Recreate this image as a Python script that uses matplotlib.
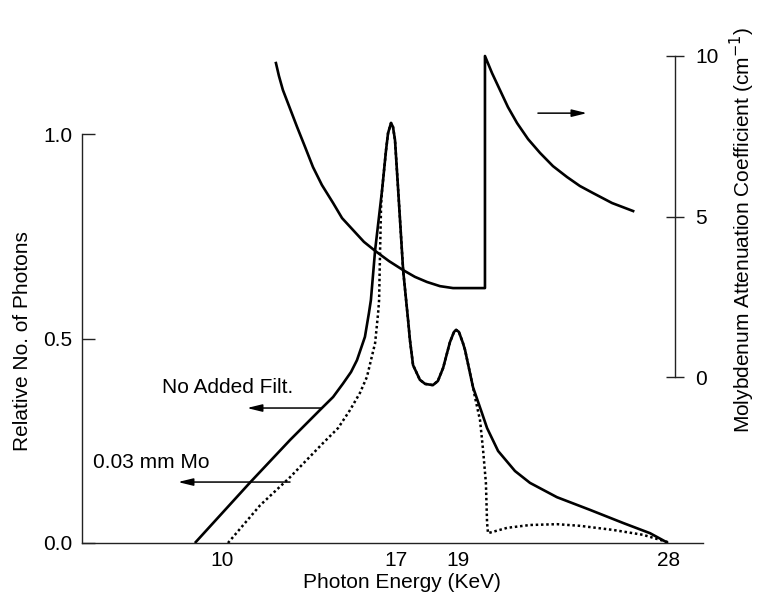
import numpy as np
import matplotlib
matplotlib.use("Agg")
import matplotlib.pyplot as plt

plt.rcParams['font.family'] = ['Liberation Sans', 'DejaVu Sans']

# ---------------- data ----------------
energy_unfiltered = [8.91, 11.13, 12.74, 14.02, 14.47, 14.87, 15.19, 15.43, 15.75,
                     15.91, 15.99, 16.16, 16.44, 16.60, 16.68, 16.80, 16.88, 16.96,
                     17.07, 17.23, 17.39, 17.45, 17.55, 17.77, 17.94, 18.19, 18.35,
                     18.52, 18.74, 18.87, 18.94, 19.04, 19.21, 19.30, 19.64, 20.02,
                     20.24, 20.71, 21.43, 22.07, 23.22, 24.63, 26.04, 27.19, 27.96]
photons_unfiltered = [0.0, 0.148, 0.252, 0.330, 0.357, 0.390, 0.418, 0.447, 0.504,
                      0.562, 0.594, 0.716, 0.863, 0.961, 1.002, 1.027, 1.017, 0.985,
                      0.863, 0.667, 0.545, 0.496, 0.435, 0.399, 0.389, 0.386, 0.396,
                      0.428, 0.491, 0.516, 0.521, 0.516, 0.489, 0.472, 0.381, 0.318,
                      0.281, 0.225, 0.176, 0.147, 0.112, 0.081, 0.049, 0.024, 0.0]

energy_mo = [10.24, 11.53, 12.74, 14.06, 14.67, 15.15, 15.55, 15.83, 16.16, 16.28,
             16.32, 16.36, 16.40, 16.44, 16.60, 16.68, 16.80, 16.88, 16.96, 17.07,
             17.23, 17.39, 17.45, 17.55, 17.77, 17.94, 18.19, 18.35, 18.52, 18.74,
             18.87, 18.94, 19.04, 19.21, 19.30, 19.64, 19.73, 19.94, 20.07, 20.19,
             20.24, 20.28, 21.09, 22.07, 23.22, 24.20, 25.61, 26.89, 27.96]
photons_mo = [0.0, 0.092, 0.161, 0.244, 0.281, 0.325, 0.367, 0.406, 0.489, 0.562,
              0.594, 0.716, 0.826, 0.863, 0.961, 1.002, 1.027, 1.017, 0.985, 0.863,
              0.667, 0.545, 0.496, 0.435, 0.399, 0.389, 0.386, 0.396, 0.428, 0.491,
              0.516, 0.521, 0.516, 0.489, 0.472, 0.381, 0.355, 0.300, 0.227, 0.147,
              0.049, 0.024, 0.037, 0.044, 0.046, 0.042, 0.032, 0.020, 0.002]

energy_atten = [12.17, 12.29, 12.45, 13.02, 13.34, 13.66, 14.02, 14.47, 14.83, 15.27,
                15.71, 16.16, 16.72, 17.23, 17.61, 18.00, 18.42, 18.84, 19.51, 20.15,
                20.15, 20.45, 20.79, 21.13, 21.52, 21.99, 22.50, 23.05, 23.65, 24.20,
                24.76, 25.57, 26.47]
atten_coeff = [9.78, 9.38, 8.94, 7.79, 7.17, 6.54, 5.98, 5.42, 4.95, 4.58,
               4.21, 3.93, 3.61, 3.33, 3.12, 2.96, 2.83, 2.77, 2.77, 2.77,
               10.0, 9.47, 8.94, 8.41, 7.91, 7.41, 6.98, 6.57, 6.23, 5.95,
               5.73, 5.42, 5.17]

x_ticks = [10, 17, 19, 28]
x_tick_labels = ['10', '17', '19', '28']
y_ticks = [0.0, 0.5, 1.0]
y_tick_labels = ['0.0', '0.5', '1.0']
atten_ticks = [0, 5, 10]
atten_tick_labels = ['0', '5', '10']

# hand-drawn energy axis is not uniform: anchor energies -> relative positions
axis_energy = [4.368, 10, 17, 19, 28, 29.45]
axis_pos = [0, 140, 314, 376, 587, 621]

# ---------------- scale ----------------
_e = np.array(axis_energy, float)
_p = np.array(axis_pos, float)
s_left = (_p[1] - _p[0]) / (_e[1] - _e[0])
s_right = (_p[-1] - _p[-2]) / (_e[-1] - _e[-2])
E_ext = np.concatenate([[_e[0] - 1000], _e, [_e[-1] + 1000]])
P_ext = np.concatenate([[_p[0] - 1000 * s_left], _p, [_p[-1] + 1000 * s_right]])


def fwd(x):
    return np.interp(np.asarray(x, float), E_ext, P_ext)


def inv(y):
    return np.interp(np.asarray(y, float), P_ext, E_ext)


fig = plt.figure(figsize=(7.58, 6.01), dpi=100)
ax = fig.add_axes([0.10818, 0.09651, 0.81926, 0.8203])
ax.set_xscale('function', functions=(fwd, inv))
ax.set_xlim(axis_energy[0], axis_energy[-1])
ax.set_ylim(0, 1.2054)

ax.plot(energy_unfiltered, photons_unfiltered, color='black', lw=1.9,
        solid_joinstyle='round', solid_capstyle='butt', zorder=3)
ax.plot(energy_mo, photons_mo, color='black', lw=1.8,
        linestyle=(0, (1.0, 1.1)), dash_capstyle='butt', zorder=2)

ax2 = ax.twinx()
ax2.set_ylim(-5.171, 10.187)
ax2.plot(energy_atten, atten_coeff, color='black', lw=1.9,
         solid_joinstyle='round', zorder=3)

# spines
for s in ['top', 'right']:
    ax.spines[s].set_visible(False)
ax.spines['left'].set_bounds(0, 1.0)
for s in ['top', 'left', 'bottom']:
    ax2.spines[s].set_visible(False)
ax2.spines['right'].set_bounds(0, 10)
ax2.spines['right'].set_position(('axes', 0.9549))
for sp in [ax.spines['left'], ax.spines['bottom'], ax2.spines['right']]:
    sp.set_linewidth(1.0)
    sp.set_color('#222222')

ax.set_xticks(x_ticks)
ax.set_xticklabels(x_tick_labels)
ax.set_yticks(y_ticks)
ax.set_yticklabels(y_tick_labels)
ax2.set_yticks(atten_ticks)
ax2.set_yticklabels(atten_tick_labels)
ax.minorticks_off()
ax2.minorticks_off()

fs = 15
ax.tick_params(axis='x', length=0, pad=6.0, labelsize=fs)
ax.tick_params(axis='y', direction='in', length=9, width=1.0, pad=7,
               labelsize=fs, color='#222222')
ax2.tick_params(axis='y', direction='inout', length=13, width=1.0, pad=8,
                labelsize=fs, color='#222222')

ax.set_xlabel('Photon Energy (KeV)', fontsize=fs)
ax.xaxis.set_label_coords(0.515, -0.081)
ax.xaxis.label.set_va('center')
ax.set_ylabel('Relative No. of Photons', fontsize=fs)
ax.yaxis.set_label_coords(-0.0966, 0.41)
ax.yaxis.label.set_va('center')
ax2.set_ylabel('Molybdenum Attenuation Coefficient (cm$^{-1}$)', fontsize=fs,
               rotation=90)
ax2.yaxis.set_label_coords(1.0628, 0.635)
ax2.yaxis.label.set_va('center')
ax2.yaxis.label.set_ha('center')

arrow = dict(arrowstyle='-|>,head_length=0.9,head_width=0.22', color='black',
             lw=1.1, shrinkA=0, shrinkB=0)
ax.annotate('', xy=(11.006, 0.330), xytext=(14.023, 0.330), arrowprops=arrow)
ax.annotate('', xy=(8.230, 0.149), xytext=(12.736, 0.149), arrowprops=arrow)
ax.annotate('', xy=(24.50, 1.051), xytext=(22.41, 1.051), arrowprops=arrow)
ax.text(10.24, 0.379, 'No Added Filt.', fontsize=fs, ha='center', va='center')
ax.text(7.144, 0.198, '0.03 mm Mo', fontsize=fs, ha='center', va='center')

fig.savefig('out.png', dpi=100)
